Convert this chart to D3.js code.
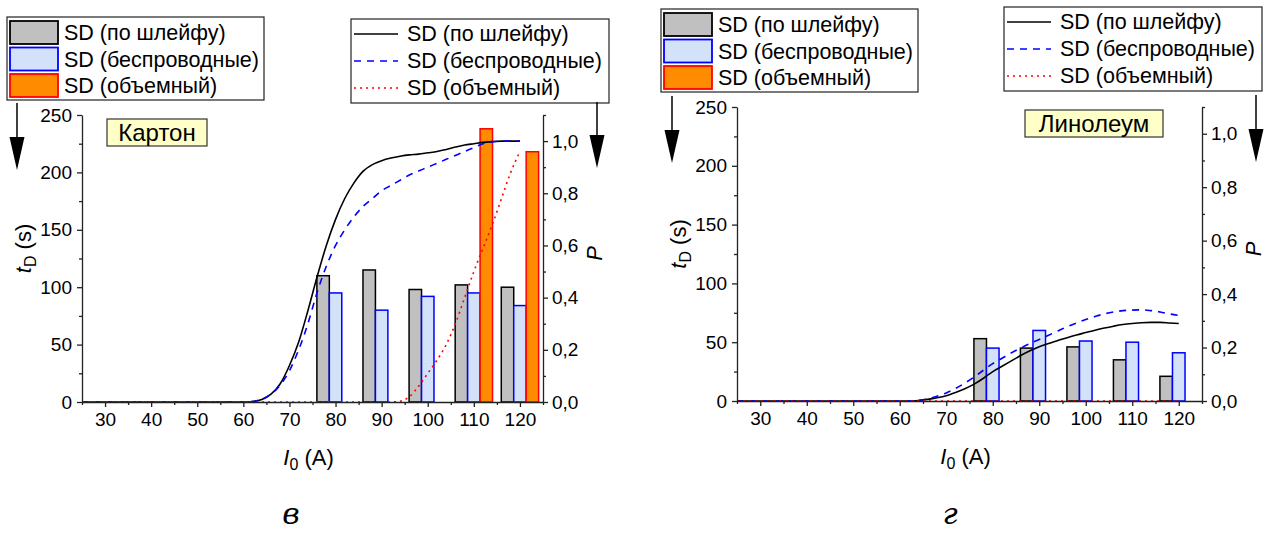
<!DOCTYPE html>
<html>
<head>
<meta charset="utf-8">
<script src="https://cdnjs.cloudflare.com/ajax/libs/d3/7.8.5/d3.min.js"></script>
<style>
  body { margin: 0; background: #fff; }
  text { font-family: "Liberation Sans", Arial, sans-serif; fill: #000; }
</style>
</head>
<body>
<script>
// Data
const xTicks = [30, 40, 50, 60, 70, 80, 90, 100, 110, 120];
const tTicks = [0, 50, 100, 150, 200, 250];
const pTicks = [0, 0.2, 0.4, 0.6, 0.8, 1.0];
const groups = [80, 90, 100, 110, 120];

const kartonWire     = [110, 115, 98, 102, 100];
const kartonWireless = [95, 80, 92, 95, 84];
const kartonVolume   = [0, 0, 0, 238, 218];

const linoWire     = [53, 45, 46, 35, 21];
const linoWireless = [45, 60, 51, 50, 41];
const linoVolume   = [0, 0, 0, 0, 0];

// P curves, sampled at curveI
const curveI = [25, 50, 60, 62, 64, 66, 68, 70, 72, 74, 76, 78, 80, 82, 84, 86, 88, 90, 92, 94, 96, 98, 100, 102, 104, 106, 108, 110, 112, 114, 116, 118, 120];
const kartonPWire     = [0, 0, 0, 0.002, 0.01, 0.03, 0.07, 0.14, 0.23, 0.35, 0.48, 0.6, 0.7, 0.78, 0.84, 0.885, 0.91, 0.925, 0.935, 0.942, 0.947, 0.95, 0.955, 0.96, 0.968, 0.977, 0.985, 0.99, 0.995, 0.998, 1.0, 1.0, 1.0];
const kartonPWireless = [0, 0, 0, 0.002, 0.01, 0.03, 0.065, 0.12, 0.2, 0.3, 0.42, 0.52, 0.6, 0.66, 0.71, 0.75, 0.78, 0.81, 0.83, 0.85, 0.87, 0.885, 0.9, 0.915, 0.93, 0.945, 0.96, 0.975, 0.99, 0.997, 1.0, 1.0, 1.0];
const kartonPVolume   = [0, 0, 0, 0, 0, 0, 0, 0, 0, 0, 0, 0, 0, 0, 0, 0, 0, 0, 0, 0.003, 0.02, 0.06, 0.11, 0.16, 0.22, 0.3, 0.4, 0.5, 0.59, 0.68, 0.78, 0.88, 0.96];
const linoPWire     = [0, 0, 0, 0, 0.002, 0.006, 0.012, 0.02, 0.032, 0.046, 0.063, 0.085, 0.11, 0.13, 0.15, 0.17, 0.188, 0.203, 0.215, 0.226, 0.237, 0.247, 0.256, 0.265, 0.273, 0.28, 0.286, 0.29, 0.293, 0.294, 0.294, 0.292, 0.29];
const linoPWireless = [0, 0, 0, 0, 0.002, 0.008, 0.018, 0.03, 0.047, 0.067, 0.09, 0.115, 0.14, 0.16, 0.18, 0.198, 0.215, 0.23, 0.246, 0.262, 0.278, 0.292, 0.305, 0.316, 0.326, 0.333, 0.338, 0.34, 0.341, 0.338, 0.333, 0.326, 0.32];
const linoPVolume   = curveI.map(() => 0);

const names = ["SD (по шлейфу)", "SD (беспроводные)", "SD (объемный)"];

const barStyle = [
  { fill: "#c0c0c0", stroke: "#000" },
  { fill: "#d3e1f9", stroke: "#0000ff" },
  { fill: "#ff8c00", stroke: "#ff0000" }
];
const lineStyle = [
  { stroke: "#000", dash: null },
  { stroke: "#0000ff", dash: "7,6" },
  { stroke: "#ff0000", dash: "2,4" }
];

const svg = d3.select("body").append("svg")
  .attr("width", 1270)
  .attr("height", 533);

function drawPanel(p) {
  const x = d3.scaleLinear().domain([25, 125]).range([p.left, p.right]);
  const yT = d3.scaleLinear().domain([0, 250]).range([p.bottom, p.top]);
  const yP = d3.scaleLinear().domain([0, 1.1]).range([p.bottom, p.top]);
  const g = svg.append("g");

  // bars (left axis)
  const band = d3.scaleBand().domain([0, 1, 2]).range([-4.05, 4.05]);
  const series = [p.wire, p.wireless, p.volume];
  series.forEach((vals, k) => {
    g.selectAll(null)
      .data(groups.map((c, i) => ({ c: c, v: vals[i] })).filter(d => d.v > 0))
      .join("rect")
      .attr("x", d => x(d.c + band(k)))
      .attr("width", d => x(d.c + band(k) + band.bandwidth()) - x(d.c + band(k)))
      .attr("y", d => yT(d.v))
      .attr("height", d => yT(0) - yT(d.v))
      .attr("fill", barStyle[k].fill)
      .attr("stroke", barStyle[k].stroke)
      .attr("stroke-width", 1.5);
  });

  // curves (right axis)
  const line = d3.line()
    .x(d => x(d[0]))
    .y(d => yP(d[1]))
    .curve(d3.curveMonotoneX);
  [p.pWire, p.pWireless, p.pVolume].forEach((vals, k) => {
    g.append("path")
      .datum(curveI.map((c, i) => [c, vals[i]]))
      .attr("d", line)
      .attr("fill", "none")
      .attr("stroke", lineStyle[k].stroke)
      .attr("stroke-width", 1.6)
      .attr("stroke-dasharray", lineStyle[k].dash);
  });

  // axes
  const fmtP = d => d3.format(".1f")(d).replace(".", ",");
  const styleAxis = a => {
    a.selectAll("path, line").attr("stroke", "#222").attr("stroke-width", 1.3);
    a.selectAll("text").style("font-size", "19px").style("font-family", "Liberation Sans, Arial, sans-serif");
  };
  g.append("g").attr("transform", `translate(0,${p.bottom})`)
    .call(d3.axisBottom(x).tickValues(xTicks).tickSize(5).tickSizeOuter(0).tickPadding(6))
    .call(styleAxis);
  g.append("g").attr("transform", `translate(0,${p.bottom})`)
    .call(d3.axisBottom(x).tickValues(d3.range(25, 126, 10)).tickSize(3).tickFormat(""))
    .call(a => a.select(".domain").remove())
    .call(styleAxis);
  g.append("g").attr("transform", `translate(${p.left},0)`)
    .call(d3.axisLeft(yT).tickValues(tTicks).tickSize(5).tickSizeOuter(0).tickPadding(5))
    .call(styleAxis);
  g.append("g").attr("transform", `translate(${p.left},0)`)
    .call(d3.axisLeft(yT).tickValues(d3.range(25, 250, 50)).tickSize(3).tickFormat(""))
    .call(a => a.select(".domain").remove())
    .call(styleAxis);
  g.append("g").attr("transform", `translate(${p.right},0)`)
    .call(d3.axisRight(yP).tickValues(pTicks).tickFormat(fmtP).tickSize(5).tickSizeOuter(0).tickPadding(4))
    .call(styleAxis);
  g.append("g").attr("transform", `translate(${p.right},0)`)
    .call(d3.axisRight(yP).tickValues([0.1, 0.3, 0.5, 0.7, 0.9, 1.1]).tickSize(3).tickFormat(""))
    .call(a => a.select(".domain").remove())
    .call(styleAxis);

  // axis titles
  const cx = (p.left + p.right) / 2;
  const xt = g.append("text").attr("x", cx - 4).attr("y", p.bottom + 63)
    .attr("text-anchor", "middle").style("font-size", "22px");
  xt.append("tspan").text("I").style("font-style", "italic");
  xt.append("tspan").text("0").attr("dy", 5).style("font-size", "16px");
  xt.append("tspan").text(" (A)").attr("dy", -5);

  const yt = g.append("text")
    .attr("transform", `translate(${p.left - 51},${(p.top + p.bottom) / 2 - 10}) rotate(-90)`)
    .attr("text-anchor", "middle").style("font-size", "22px");
  yt.append("tspan").text("t").style("font-style", "italic");
  yt.append("tspan").text("D").attr("dy", 5).style("font-size", "16px");
  yt.append("tspan").text(" (s)").attr("dy", -5);

  g.append("text")
    .attr("transform", `translate(${p.right + 59},${(p.top + p.bottom) / 2 - 5}) rotate(-90)`)
    .attr("text-anchor", "middle")
    .style("font-size", "22px").style("font-style", "italic")
    .text("P");

  // material label
  g.append("rect")
    .attr("x", p.tag.x).attr("y", p.tag.y).attr("width", p.tag.w).attr("height", 27)
    .attr("fill", "#ffffc8").attr("stroke", "#333").attr("stroke-width", 1.2);
  g.append("text")
    .attr("x", p.tag.x + p.tag.w / 2).attr("y", p.tag.y + 22)
    .attr("text-anchor", "middle").style("font-size", "24px")
    .text(p.tag.text);

  // legend: bars
  const la = g.append("g").attr("transform", `translate(${p.legA[0]},${p.legA[1]})`);
  la.append("rect").attr("width", 257).attr("height", 83)
    .attr("fill", "#fff").attr("stroke", "#222").attr("stroke-width", 1.2);
  names.forEach((n, k) => {
    la.append("rect").attr("x", 3).attr("y", 4 + k * 26.5).attr("width", 48).attr("height", 23)
      .attr("fill", barStyle[k].fill).attr("stroke", barStyle[k].stroke).attr("stroke-width", 1.8);
    la.append("text").attr("x", 57).attr("y", 23 + k * 26.5).style("font-size", "21.5px").text(n);
  });

  // legend: lines
  const lb = g.append("g").attr("transform", `translate(${p.legB[0]},${p.legB[1]})`);
  lb.append("rect").attr("width", 258).attr("height", 84)
    .attr("fill", "#fff").attr("stroke", "#222").attr("stroke-width", 1.2);
  names.forEach((n, k) => {
    const yy = 15 + k * 27;
    lb.append("line").attr("x1", 3).attr("x2", 47).attr("y1", yy).attr("y2", yy)
      .attr("stroke", lineStyle[k].stroke).attr("stroke-width", 1.6)
      .attr("stroke-dasharray", lineStyle[k].dash);
    lb.append("text").attr("x", 56).attr("y", yy + 7).style("font-size", "21.5px").text(n);
  });

  // arrows pointing to the axes
  [[p.left - 65, p.arrowL], [p.right + 54, p.arrowR]].forEach(([ax, ay]) => {
    g.append("line").attr("x1", ax).attr("x2", ax).attr("y1", ay[0]).attr("y2", ay[1] - 30)
      .attr("stroke", "#000").attr("stroke-width", 1.5);
    g.append("path")
      .attr("d", `M${ax - 7.5},${ay[1] - 33}L${ax + 7.5},${ay[1] - 33}L${ax},${ay[1]}Z`)
      .attr("fill", "#000");
  });

  // panel letter
  g.append("text").attr("x", p.letter[0]).attr("y", p.letter[1])
    .attr("text-anchor", "middle")
    .style("font-family", "'DejaVu Serif', 'Liberation Serif', serif")
    .style("font-style", "italic").style("font-size", "30px")
    .text(p.letter[2]);
}

drawPanel({
  left: 82, right: 543, top: 115, bottom: 402,
  wire: kartonWire, wireless: kartonWireless, volume: kartonVolume,
  pWire: kartonPWire, pWireless: kartonPWireless, pVolume: kartonPVolume,
  tag: { x: 107, y: 119, w: 100, text: "Картон" },
  legA: [7, 17], legB: [351, 19],
  arrowL: [103, 170], arrowR: [102, 168],
  letter: [291, 524, "в"]
});

drawPanel({
  left: 737, right: 1202, top: 107, bottom: 401,
  wire: linoWire, wireless: linoWireless, volume: linoVolume,
  pWire: linoPWire, pWireless: linoPWireless, pVolume: linoPVolume,
  tag: { x: 1025, y: 110, w: 138, text: "Линолеум" },
  legA: [661, 9], legB: [1004, 7],
  arrowL: [96, 163], arrowR: [95, 162],
  letter: [950, 524, "г"]
});
</script>
</body>
</html>
